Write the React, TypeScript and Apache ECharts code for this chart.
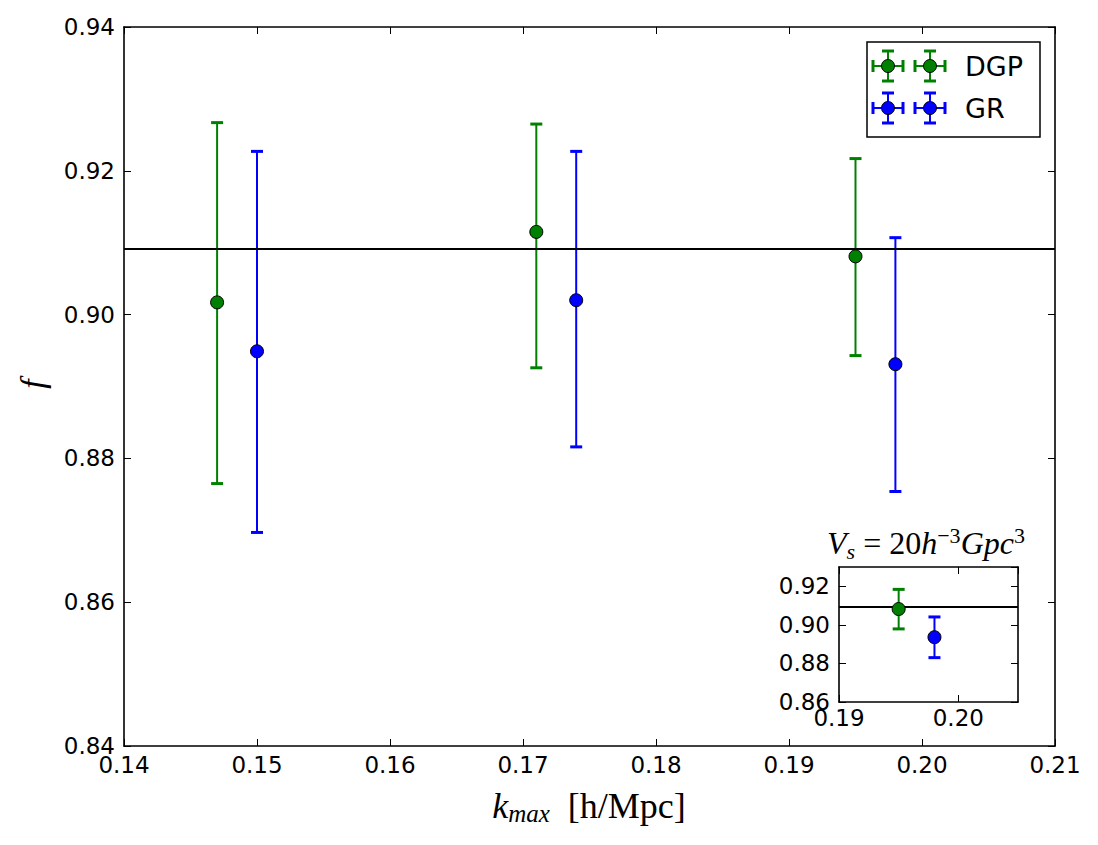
import React, { useEffect, useRef } from "react";
import * as echarts from "echarts";

// ---- Data ----
const kDGP = [0.147, 0.171, 0.195];
const fDGP = [0.9017, 0.9115, 0.9081];
const fDGPLow = [0.8765, 0.8926, 0.8943];
const fDGPHigh = [0.9267, 0.9265, 0.9217];

const kGR = [0.15, 0.174, 0.198];
const fGR = [0.8949, 0.902, 0.8931];
const fGRLow = [0.8697, 0.8816, 0.8754];
const fGRHigh = [0.9227, 0.9227, 0.9107];

const fRef = 0.9092;

// inset (V_s = 20 h^-3 Gpc^3)
const insetKDGP = [0.195];
const insetFDGP = [0.9082];
const insetFDGPLow = [0.8979];
const insetFDGPHigh = [0.9184];
const insetKGR = [0.198];
const insetFGR = [0.8936];
const insetFGRLow = [0.883];
const insetFGRHigh = [0.9041];

const legendNames = ["DGP", "GR"];
const GREEN = "#008000";
const BLUE = "#0000ff";
const legendColors = [GREEN, BLUE];

const SANS = "DejaVu Sans";
const SERIF = "Liberation Serif";

function errRender(color: string, capHalf: number) {
  return (params: any, api: any) => {
    const x = api.value(0);
    const lo = api.value(1);
    const hi = api.value(2);
    const a = api.coord([x, lo]);
    const b = api.coord([x, hi]);
    const st = { stroke: color, lineWidth: 2 };
    const cap = { stroke: color, lineWidth: 3 };
    return {
      type: "group",
      children: [
        { type: "line", shape: { x1: a[0], y1: a[1], x2: b[0], y2: b[1] }, style: st },
        { type: "line", shape: { x1: a[0] - capHalf, y1: a[1], x2: a[0] + capHalf, y2: a[1] }, style: cap },
        { type: "line", shape: { x1: b[0] - capHalf, y1: b[1], x2: b[0] + capHalf, y2: b[1] }, style: cap },
      ],
    };
  };
}

function zip3(a: number[], b: number[], c: number[]) {
  return a.map((v, i) => [v, b[i], c[i]]);
}
function zip2(a: number[], b: number[]) {
  return a.map((v, i) => [v, b[i]]);
}

function legendMarker(cx: number, cy: number, color: string) {
  const st = { stroke: color, lineWidth: 2 };
  const cap = { stroke: color, lineWidth: 3 };
  const L = 15;
  const c = 6;
  return [
    { type: "line", shape: { x1: cx - L, y1: cy, x2: cx + L, y2: cy }, style: st, z: 100 },
    { type: "line", shape: { x1: cx, y1: cy - L, x2: cx, y2: cy + L }, style: st, z: 100 },
    { type: "line", shape: { x1: cx - L, y1: cy - c, x2: cx - L, y2: cy + c }, style: cap, z: 100 },
    { type: "line", shape: { x1: cx + L, y1: cy - c, x2: cx + L, y2: cy + c }, style: cap, z: 100 },
    { type: "line", shape: { x1: cx - c, y1: cy - L, x2: cx + c, y2: cy - L }, style: cap, z: 100 },
    { type: "line", shape: { x1: cx - c, y1: cy + L, x2: cx + c, y2: cy + L }, style: cap, z: 100 },
    { type: "circle", shape: { cx, cy, r: 6.5 }, style: { fill: color, stroke: "#000", lineWidth: 1 }, z: 101 },
  ];
}

const fmt2 = (v: number) => v.toFixed(2);

function makeAxis(
  gridIndex: number,
  min: number,
  max: number,
  interval: number,
  pos: string,
  showLabel: boolean,
  margin: number,
  showMax: boolean
) {
  return {
    type: "value",
    gridIndex,
    position: pos,
    min,
    max,
    interval,
    splitLine: { show: false },
    axisLine: { show: true, onZero: false, lineStyle: { color: "#000", width: 1.6 } },
    axisTick: { show: true, inside: true, length: 7, lineStyle: { color: "#000", width: 1 } },
    axisLabel: {
      show: showLabel,
      formatter: fmt2,
      color: "#000",
      fontFamily: SANS,
      fontSize: 23,
      lineHeight: 18,
      margin,
      showMaxLabel: showMax,
      showMinLabel: true,
    },
  };
}

export default function App() {
  const ref = useRef<HTMLDivElement>(null);
  useEffect(() => {
    document.body.style.margin = "0";
    const chart = echarts.init(ref.current!, null, { renderer: "svg" });

    const legendEls: any[] = [
      {
        type: "rect",
        shape: { x: 867, y: 42, width: 173, height: 95 },
        style: { fill: "#fff", stroke: "#000", lineWidth: 1.5 },
        z: 99,
      },
    ];
    legendNames.forEach((name, i) => {
      const cy = 66 + i * 42;
      legendEls.push(...legendMarker(888, cy, legendColors[i]));
      legendEls.push(...legendMarker(930, cy, legendColors[i]));
      legendEls.push({
        type: "text",
        x: 965,
        y: cy,
        style: { text: name, fontFamily: SANS, fontSize: 27, fill: "#000", verticalAlign: "middle", align: "left" },
        z: 101,
      });
    });

    const refLine = {
      silent: true,
      symbol: "none",
      precision: 6,
      label: { show: false },
      lineStyle: { color: "#000", type: "solid", width: 2 },
      data: [{ yAxis: fRef }],
    };

    const option: any = {
      animation: false,
      backgroundColor: "#fff",
      grid: [
        { left: 124, top: 27, width: 931, height: 719, show: false },
        { left: 839, top: 567, width: 179, height: 135, show: true, backgroundColor: "#fff", borderWidth: 0, z: 5 },
      ],
      xAxis: [
        makeAxis(0, 0.14, 0.21, 0.01, "bottom", true, 10, true),
        makeAxis(0, 0.14, 0.21, 0.01, "top", false, 10, true),
        { ...makeAxis(1, 0.19, 0.205, 0.01, "bottom", true, 7, false), z: 6 },
        { ...makeAxis(1, 0.19, 0.205, 0.01, "top", false, 7, false), z: 6 },
      ],
      yAxis: [
        makeAxis(0, 0.84, 0.94, 0.02, "left", true, 9, true),
        makeAxis(0, 0.84, 0.94, 0.02, "right", false, 9, true),
        { ...makeAxis(1, 0.86, 0.93, 0.02, "left", true, 9, false), z: 6 },
        { ...makeAxis(1, 0.86, 0.93, 0.02, "right", false, 9, false), z: 6 },
      ],
      series: [
        {
          type: "custom",
          xAxisIndex: 0,
          yAxisIndex: 0,
          renderItem: errRender(GREEN, 6),
          data: zip3(kDGP, fDGPLow, fDGPHigh),
          encode: { x: 0, y: [1, 2] },
          z: 2,
          markLine: refLine,
        },
        {
          type: "custom",
          xAxisIndex: 0,
          yAxisIndex: 0,
          renderItem: errRender(BLUE, 6),
          data: zip3(kGR, fGRLow, fGRHigh),
          encode: { x: 0, y: [1, 2] },
          z: 2,
        },
        {
          type: "scatter",
          xAxisIndex: 0,
          yAxisIndex: 0,
          data: zip2(kDGP, fDGP),
          symbol: "circle",
          symbolSize: 13,
          itemStyle: { color: GREEN, borderColor: "#000", borderWidth: 1, opacity: 1 },
          z: 4,
        },
        {
          type: "scatter",
          xAxisIndex: 0,
          yAxisIndex: 0,
          data: zip2(kGR, fGR),
          symbol: "circle",
          symbolSize: 13,
          itemStyle: { color: BLUE, borderColor: "#000", borderWidth: 1, opacity: 1 },
          z: 4,
        },
        // inset
        {
          type: "custom",
          xAxisIndex: 2,
          yAxisIndex: 2,
          renderItem: errRender(GREEN, 6),
          data: zip3(insetKDGP, insetFDGPLow, insetFDGPHigh),
          encode: { x: 0, y: [1, 2] },
          z: 7,
          markLine: refLine,
        },
        {
          type: "custom",
          xAxisIndex: 2,
          yAxisIndex: 2,
          renderItem: errRender(BLUE, 6),
          data: zip3(insetKGR, insetFGRLow, insetFGRHigh),
          encode: { x: 0, y: [1, 2] },
          z: 7,
        },
        {
          type: "scatter",
          xAxisIndex: 2,
          yAxisIndex: 2,
          data: zip2(insetKDGP, insetFDGP),
          symbolSize: 13,
          itemStyle: { color: GREEN, borderColor: "#000", borderWidth: 1, opacity: 1 },
          z: 8,
        },
        {
          type: "scatter",
          xAxisIndex: 2,
          yAxisIndex: 2,
          data: zip2(insetKGR, insetFGR),
          symbolSize: 13,
          itemStyle: { color: BLUE, borderColor: "#000", borderWidth: 1, opacity: 1 },
          z: 8,
        },
      ],
      graphic: [
        ...legendEls,
        {
          type: "text",
          x: 589,
          y: 806,
          style: {
            text: "{k|k}{s|max}{n|  [h/Mpc]}",
            align: "center",
            verticalAlign: "middle",
            fill: "#000",
            rich: {
              k: { fontFamily: SERIF, fontStyle: "italic", fontSize: 36, lineHeight: 40, verticalAlign: "middle" },
              s: { fontFamily: SERIF, fontStyle: "italic", fontSize: 25, lineHeight: 24, verticalAlign: "bottom" },
              n: { fontFamily: SERIF, fontSize: 36, lineHeight: 40, verticalAlign: "middle" },
            },
          },
        },
        {
          type: "text",
          x: 32,
          y: 384,
          rotation: Math.PI / 2,
          style: {
            text: "f",
            fontFamily: SERIF,
            fontStyle: "italic",
            fontSize: 34,
            fill: "#000",
            align: "center",
            verticalAlign: "middle",
          },
        },
        {
          type: "text",
          x: 926,
          y: 543,
          style: {
            text: "{v|V}{s|s}{n| = 20}{v|h}{p|−3}{v|Gpc}{p|3}",
            align: "center",
            verticalAlign: "middle",
            fill: "#000",
            rich: {
              v: { fontFamily: SERIF, fontStyle: "italic", fontSize: 32, lineHeight: 38, verticalAlign: "middle" },
              n: { fontFamily: SERIF, fontSize: 32, lineHeight: 38, verticalAlign: "middle" },
              s: { fontFamily: SERIF, fontStyle: "italic", fontSize: 22, lineHeight: 20, verticalAlign: "bottom" },
              p: { fontFamily: SERIF, fontSize: 22, lineHeight: 20, verticalAlign: "top" },
            },
          },
        },
      ],
    };

    chart.setOption(option);
    return () => chart.dispose();
  }, []);

  return <div ref={ref} style={{ width: 1098, height: 845 }} />;
}
